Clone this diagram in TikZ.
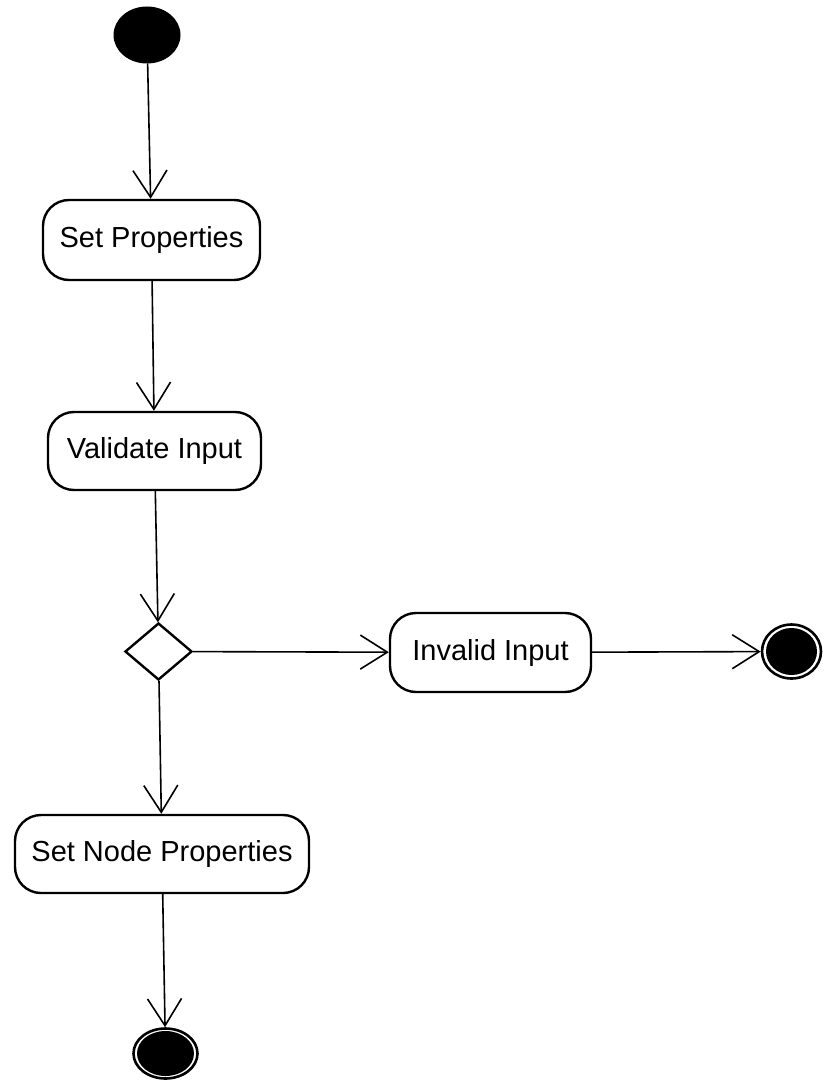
\documentclass[tikz,border=0pt]{standalone}
\usepackage{fontspec}
\setmainfont{Liberation Sans}
\usetikzlibrary{shapes.geometric,arrows.meta}
\begin{document}
\begin{tikzpicture}[x=1pt,y=-1pt,
  font=\fontsize{29}{32}\selectfont,
  action/.style={draw, line width=2.4pt, rounded corners=26pt, inner sep=0pt},
  initial/.style={ellipse, fill=black, draw=black, line width=1pt, inner sep=0pt},
  final/.style 2 args={ellipse, draw=black, line width=2.6pt, inner sep=0pt,
    path picture={\fill[black] (path picture bounding box.center)
      ellipse [x radius=#1, y radius=#2];}},
  decision/.style={diamond, draw, line width=2.4pt, inner sep=0pt},
  flow/.style={line width=1.6pt, -{Straight Barb[length=27pt,width=34pt,line width=1.6pt]}}
]
\useasboundingbox (0,0) rectangle (823,1083);

\node[initial, minimum width=66pt, minimum height=56pt] (start) at (147,35) {};
\node[action, minimum width=217pt, minimum height=80pt] (setprop) at (151.5,240) {Set Properties};
\node[action, minimum width=213pt, minimum height=78pt] (valid) at (154.5,451) {Validate Input};
\node[decision, minimum width=67pt, minimum height=57pt] (choice) at (158.5,651.5) {};
\node[action, minimum width=201pt, minimum height=79pt] (invalid) at (490.5,652.5) {Invalid Input};
\node[final={25.5pt}{23.5pt}, minimum width=59pt, minimum height=54pt] (endright) at (791.5,651.5) {};
\node[action, minimum width=294pt, minimum height=78pt] (nodeprop) at (162,854) {Set Node Properties};
\node[final={28.5pt}{22.5pt}, minimum width=64pt, minimum height=50pt] (endbottom) at (165.5,1053.5) {};

\draw[flow] (start) -- (setprop);
\draw[flow] (setprop) -- (valid);
\draw[flow] (valid) -- (choice);
\draw[flow] (choice) -- (invalid);
\draw[flow] (invalid) -- (endright);
\draw[flow] (choice) -- (nodeprop);
\draw[flow] (nodeprop) -- (endbottom);
\end{tikzpicture}
\end{document}
